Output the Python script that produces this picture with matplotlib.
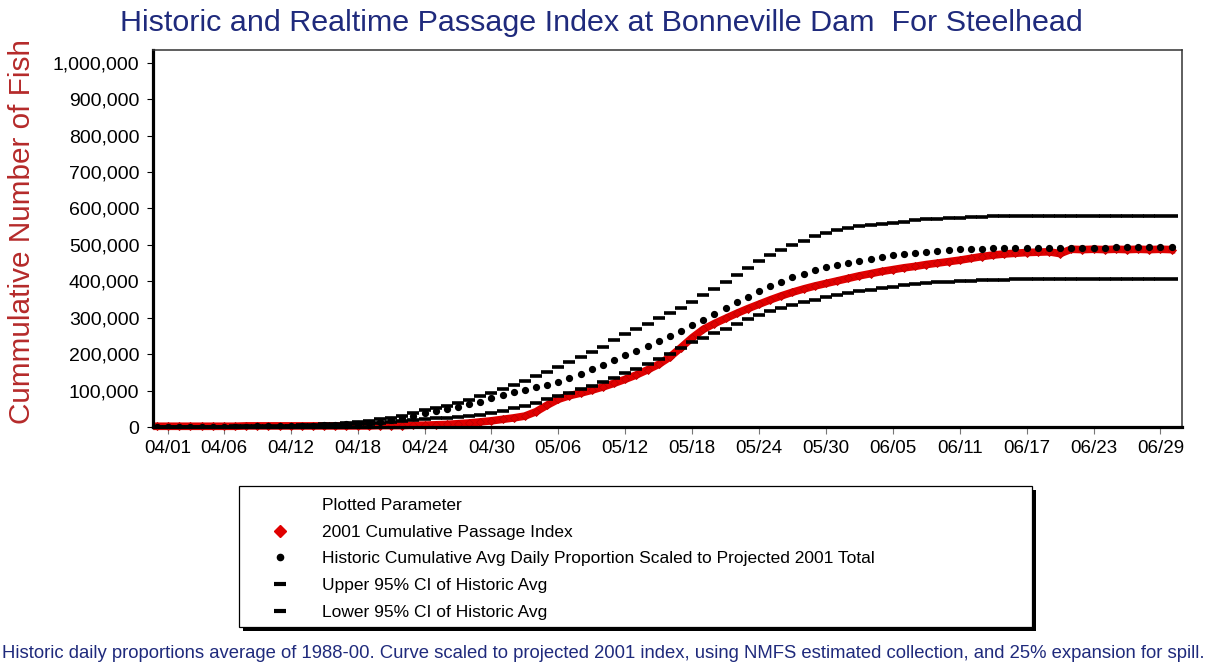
import numpy as np
import pandas as pd
import matplotlib
matplotlib.use('Agg')
import matplotlib.pyplot as plt
from matplotlib.lines import Line2D
from matplotlib.patches import Rectangle
from matplotlib.ticker import FuncFormatter

plt.rcParams['font.family'] = ['Liberation Sans', 'DejaVu Sans']

# daily values, 03/31 .. 06/30 2001, in thousands of fish
dates = pd.date_range('2001-03-31', '2001-06-30', freq='D')

passage_2001 = [2, 2, 2, 2, 2, 2, 2, 2, 3, 3, 3,
                3, 3, 3, 3, 3, 3, 3,
                3, 3, 4, 4, 4, 5,
                5, 6, 7, 9, 11, 14, 17,
                21, 25, 30, 42, 60, 76,
                86, 93, 101, 110, 120, 131,
                143, 157, 172, 192, 218, 245,
                268, 284, 298, 312, 325, 337,
                349, 360, 370, 379, 387, 394,
                401, 408, 415, 421, 427, 432,
                437, 441, 446, 450, 454, 458,
                463, 468, 472, 475, 477, 479,
                480, 481, 476, 488, 487, 488, 487, 488, 487, 488, 487, 488, 487]

hist_avg = [0, 0, 0, 0, 1, 1, 1, 1, 1, 2, 2,
            2, 3, 3, 4, 5, 6, 7,
            9, 11, 14, 20, 25, 31,
            38, 44, 50, 56, 63, 70, 80,
            87, 95, 102, 109, 116, 124,
            134, 145, 158, 170, 183, 197,
            210, 222, 236, 250, 264, 280,
            295, 311, 327, 342, 357, 372,
            386, 399, 411, 421, 430, 438,
            445, 451, 457, 462, 467, 471,
            475, 478, 481, 484, 486, 488,
            489, 490, 491, 492, 492, 492,
            492, 492, 492, 492, 492, 492, 492, 493, 493, 493, 493, 493, 493]

upper_ci = [0, 0, 0, 1, 1, 1, 1, 2, 2, 2, 3,
            3, 4, 5, 6, 7, 9, 11,
            14, 17, 21, 26, 31, 38,
            46, 52, 59, 66, 75, 84, 94,
            104, 115, 127, 139, 151, 164,
            178, 192, 206, 221, 238, 255,
            270, 284, 298, 312, 328, 344,
            362, 380, 398, 416, 436, 455,
            472, 487, 500, 512, 523, 532,
            540, 546, 551, 555, 558, 561,
            564, 567, 570, 572, 574, 575,
            576, 577, 578, 578, 579, 579,
            580, 580, 580, 580, 580, 580, 580, 580, 580, 580, 580, 580, 580]

lower_ci = [0, 0, 0, 0, 0, 0, 1, 1, 1, 1, 1,
            1, 2, 2, 3, 3, 4, 5,
            7, 9, 11, 13, 16, 19,
            22, 24, 26, 28, 31, 34, 38,
            44, 51, 59, 67, 76, 85,
            94, 103, 112, 123, 135, 148,
            160, 172, 186, 200, 216, 232,
            245, 257, 268, 282, 296, 308,
            318, 328, 336, 344, 350, 356,
            362, 367, 372, 376, 381, 385,
            389, 392, 394, 397, 399, 401,
            402, 403, 404, 404, 405, 405,
            405, 405, 405, 405, 405, 405, 405, 405, 405, 405, 405, 405, 405]

tick_labels = ['04/01', '04/06', '04/12', '04/18', '04/24', '04/30', '05/06', '05/12',
               '05/18', '05/24', '05/30', '06/05', '06/11', '06/17', '06/23', '06/29']
y_ticks = [0, 100000, 200000, 300000, 400000, 500000, 600000, 700000, 800000, 900000, 1000000]

legend_labels = ['Plotted Parameter',
                 '2001 Cumulative Passage Index',
                 'Historic Cumulative Avg Daily Proportion Scaled to Projected 2001 Total',
                 'Upper 95% CI of Historic Avg',
                 'Lower 95% CI of Historic Avg']

title = 'Historic and Realtime Passage Index at Bonneville Dam  For Steelhead'
y_title = 'Cummulative Number of Fish'
footnote = ('Historic daily proportions average of 1988-00. Curve scaled to projected 2001 index, '
            'using NMFS estimated collection, and 25% expansion for spill.')

RED = '#e00000'
NAVY = '#1f2a7c'

W, H = 1208, 667
fig = plt.figure(figsize=(W / 100, H / 100), dpi=100)
ax = fig.add_axes([153 / W, 1 - 427 / H, (1182 - 153) / W, (427 - 50) / H])

k = 1000
ax.plot(dates, np.array(passage_2001) * k, color=RED, lw=5.5, marker='D', ms=4.5,
        mec='#c00000', mew=0.6, zorder=2, clip_on=False)
ax.plot(dates, np.array(upper_ci) * k, linestyle='none', marker='_', ms=8.5, mew=2.6,
        color='black', zorder=3)
ax.plot(dates, np.array(lower_ci) * k, linestyle='none', marker='_', ms=8.5, mew=2.6,
        color='black', zorder=3)
ax.plot(dates, np.array(hist_avg) * k, linestyle='none', marker='o', ms=4.2,
        color='black', zorder=4)

ax.set_ylim(0, 1035000)
ax.set_yticks(y_ticks)
ax.yaxis.set_major_formatter(FuncFormatter(lambda v, _: f'{int(v):,}'))

tick_dates = pd.to_datetime(['2001/' + t for t in tick_labels], format='%Y/%m/%d')
ax.set_xticks(tick_dates)
ax.set_xticklabels(tick_labels)
ax.set_xlim(pd.Timestamp('2001-03-30 15:30'), pd.Timestamp('2001-06-30 22:30'))

ax.tick_params(axis='y', direction='out', length=4.3, width=0.8, pad=5.5, labelsize=14)
ax.tick_params(axis='x', direction='out', length=5, width=0.8, color='#777777', pad=4.5,
               labelsize=13.5)
for side in ['left', 'bottom']:
    ax.spines[side].set_linewidth(2.3)
for side in ['top', 'right']:
    ax.spines[side].set_linewidth(1.1)
    ax.spines[side].set_color('#333333')

# texts, scaled to the widths seen in the reference
renderer = fig.canvas.get_renderer()

def fit(txt, target_px, vertical=False):
    bb = txt.get_window_extent(renderer)
    size = bb.height if vertical else bb.width
    txt.set_fontsize(txt.get_fontsize() * target_px / size)

t = fig.text(601 / W, 1 - 23 / H, title, ha='center', va='center', color=NAVY, fontsize=18)
fit(t, 962)
yl = fig.text(22 / W, 1 - 232 / H, y_title, rotation=90, ha='center', va='center',
              color='#b52a2a', fontsize=20)
fit(yl, 385, vertical=True)
fn = fig.text(603 / W, 1 - 653 / H, footnote, ha='center', va='center', color=NAVY,
              fontsize=11)
fit(fn, 1198)

# legend box with a heavy drop shadow
bx0, by0, bx1, by1 = 239, 486, 1032, 627
fig.add_artist(Rectangle(((bx0 + 4) / W, 1 - (by1 + 4) / H), (bx1 - bx0) / W, (by1 - by0) / H,
                         transform=fig.transFigure, facecolor='black', edgecolor='none',
                         zorder=1))
fig.add_artist(Rectangle((bx0 / W, 1 - by1 / H), (bx1 - bx0) / W, (by1 - by0) / H,
                         transform=fig.transFigure, facecolor='white', edgecolor='black',
                         linewidth=0.9, zorder=2))

handles = [
    Line2D([], [], linestyle='none'),
    Line2D([], [], linestyle='none', marker='D', ms=6, color=RED),
    Line2D([], [], linestyle='none', marker='o', ms=4.5, color='black'),
    Line2D([], [], linestyle='none', marker='_', ms=9, mew=3, color='black'),
    Line2D([], [], linestyle='none', marker='_', ms=9, mew=3, color='black'),
]
leg = fig.legend(handles, legend_labels, loc='upper left',
                 bbox_to_anchor=(262.6 / W, 1 - 498 / H), frameon=False,
                 borderpad=0, borderaxespad=0, handlelength=2, handletextpad=1.42,
                 labelspacing=0.66, fontsize=12.5)
leg.set_zorder(3)

fig.savefig('out.png', dpi=100, facecolor='white')
